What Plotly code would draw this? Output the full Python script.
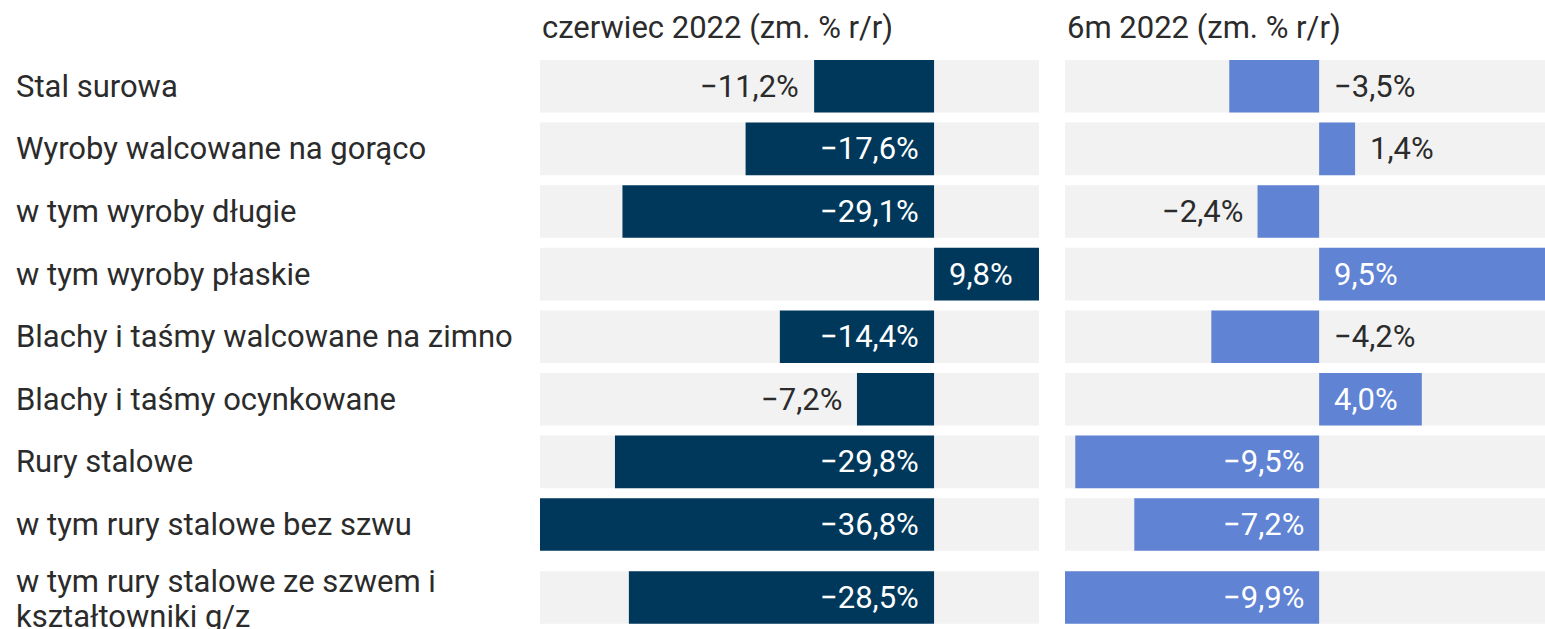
import plotly.graph_objects as go

categories = [
    "Stal surowa",
    "Wyroby walcowane na gorąco",
    "w tym wyroby długie",
    "w tym wyroby płaskie",
    "Blachy i taśmy walcowane na zimno",
    "Blachy i taśmy ocynkowane",
    "Rury stalowe",
    "w tym rury stalowe bez szwu",
    "w tym rury stalowe ze szwem i<br>kształtowniki g/z",
]
june_values = [-11.2, -17.6, -29.1, 9.8, -14.4, -7.2, -29.8, -36.8, -28.5]
h1_values = [-3.5, 1.4, -2.4, 9.5, -4.2, 4.0, -9.5, -7.2, -9.9]
panel_titles = ["czerwiec 2022 (zm. % r/r)", "6m 2022 (zm. % r/r)"]

# label placement styles
june_place = ["outside", "inside", "inside", "inside", "inside", "outside", "inside", "inside", "inside"]
h1_place = ["opposite", "outside", "outside", "inside", "opposite", "inside", "inside", "inside", "inside"]

DARK = "#00385C"
BLUE = "#6083D4"
GREY = "#F2F2F2"
TXT = "#2B2B2B"
FONT = "Roboto"
FS = 31
LINE_PX = 35
W, H = 1545, 629

# row positions: extra space for multi-line labels
pos = []
acc = 0.0
for i, c in enumerate(categories):
    extra = 0.166 * c.count("<br>")
    acc += extra
    pos.append(i + acc)

row_px = 62.6
top_px = 86.3
y_top = -top_px / row_px
y_bot = y_top + H / row_px

left_dom = [540 / W, 1039 / W]
right_dom = [1065 / W, 1.0]
full_w = 498.0
right_vis_w = W - 1065

l_range = [min(june_values), max(june_values)]
r_full = [min(h1_values), max(h1_values)]
r_range = [r_full[0], r_full[0] + (r_full[1] - r_full[0]) * right_vis_w / full_w]

fig = go.Figure()
fig.add_trace(go.Bar(y=pos, x=june_values, orientation="h", marker=dict(color=DARK, line=dict(width=0)),
                     width=0.84, xaxis="x", yaxis="y", hoverinfo="skip"))
fig.add_trace(go.Bar(y=pos, x=h1_values, orientation="h", marker=dict(color=BLUE, line=dict(width=0)),
                     width=0.84, xaxis="x2", yaxis="y", hoverinfo="skip"))

shapes = []
annotations = []
for xr in ["x", "x2"]:
    for p in pos:
        shapes.append(dict(type="rect", xref=f"{xr} domain", yref="y", x0=0, x1=1,
                           y0=p - 0.42, y1=p + 0.42, fillcolor=GREY, line=dict(width=0), layer="below"))

def add_labels(vals, places, xr):
    for v, pl, p in zip(vals, places, pos):
        sgn = 1 if v >= 0 else -1
        txt = f"{v:.1f}%".replace(".", ",").replace("-", "\u2212")
        if pl == "inside":
            ax, side, col = 0, sgn, "white"
        elif pl == "outside":
            ax, side, col = v, sgn, TXT
        else:
            ax, side, col = 0, -sgn, TXT
        annotations.append(dict(x=ax, y=p, xref=xr, yref="y", text=txt, showarrow=False,
                                xanchor="left" if side > 0 else "right", xshift=13 * side,
                                font=dict(family=FONT, size=FS, color=col)))

add_labels(june_values, june_place, "x")
add_labels(h1_values, h1_place, "x2")

for c, p in zip(categories, pos):
    lines = c.split("<br>")
    n = len(lines)
    for k, ln in enumerate(lines):
        shift = -(k - (n - 1) / 2) * LINE_PX
        annotations.append(dict(x=14 / W, y=p, xref="paper", yref="y", text=ln, showarrow=False,
                                xanchor="left", yanchor="middle", align="left", yshift=shift - 2 * (n - 1),
                                font=dict(family=FONT, size=FS, color=TXT)))

for t, dom in zip(panel_titles, [left_dom, right_dom]):
    annotations.append(dict(x=dom[0], y=1 - 28 / H, xref="paper", yref="paper", text=t, showarrow=False,
                            xanchor="left", yanchor="middle",
                            font=dict(family=FONT, size=FS, color=TXT)))

fig.update_layout(
    width=W, height=H, margin=dict(l=0, r=0, t=0, b=0),
    paper_bgcolor="white", plot_bgcolor="rgba(0,0,0,0)",
    showlegend=False, barmode="overlay",
    xaxis=dict(domain=left_dom, range=l_range, visible=False, fixedrange=True),
    xaxis2=dict(domain=right_dom, range=r_range, visible=False, fixedrange=True),
    yaxis=dict(range=[y_bot, y_top], visible=False, fixedrange=True),
    shapes=shapes, annotations=annotations,
)
fig.write_html("out.html", config={"displayModeBar": False},
               post_script="document.body.style.margin='0';document.body.style.overflow='hidden';")
